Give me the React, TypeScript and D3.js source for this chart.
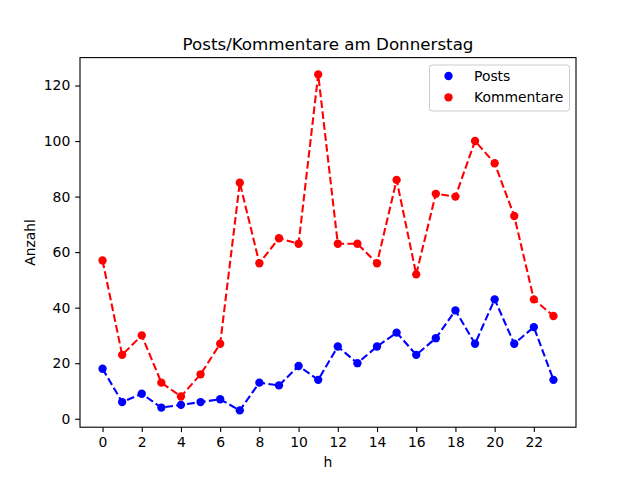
import React, { useEffect, useRef } from 'react';
import * as d3 from 'd3';

const hours = d3.range(0, 24);
const posts = [18, 6, 9, 4, 5, 6, 7, 3, 13, 12, 19, 14, 26, 20, 26, 31, 23, 29, 39, 27, 43, 27, 33, 14];
const kommentare = [57, 23, 30, 13, 8, 16, 27, 85, 56, 65, 63, 124, 63, 63, 56, 86, 52, 81, 80, 100, 92, 73, 43, 37];
const xTicks = [0, 2, 4, 6, 8, 10, 12, 14, 16, 18, 20, 22];
const yTicks = [0, 20, 40, 60, 80, 100, 120];

const series = [
  { name: 'Posts', values: posts, color: '#0000ff' },
  { name: 'Kommentare', values: kommentare, color: '#ff0000' },
];

const W = 640;
const H = 480;
const margin = { top: 57.6, right: 64, bottom: 52.8, left: 80 };
const font = 'DejaVu Sans, sans-serif';

export default function App() {
  const svgRef = useRef<SVGSVGElement>(null);

  useEffect(() => {
    if (!svgRef.current) return;
    const svg = d3.select(svgRef.current);
    svg.selectAll('*').remove();

    const iw = W - margin.left - margin.right;
    const ih = H - margin.top - margin.bottom;

    // matplotlib style 5% margins
    const xPad = 23 * 0.05;
    const x = d3.scaleLinear().domain([0 - xPad, 23 + xPad]).range([0, iw]);
    const allVals = posts.concat(kommentare);
    const ymin = d3.min(allVals) as number;
    const ymax = d3.max(allVals) as number;
    const yPad = (ymax - ymin) * 0.05;
    const y = d3.scaleLinear().domain([ymin - yPad, ymax + yPad]).range([ih, 0]);

    svg.append('rect').attr('width', W).attr('height', H).attr('fill', '#fff');

    const g = svg.append('g').attr('transform', `translate(${margin.left},${margin.top})`);

    const line = d3.line<number>()
      .x((_, i) => x(hours[i]))
      .y(d => y(d));

    series.forEach(s => {
      g.append('path')
        .datum(s.values)
        .attr('fill', 'none')
        .attr('stroke', s.color)
        .attr('stroke-width', 2.08)
        .attr('stroke-dasharray', '7.7,3.3')
        .attr('d', line);
      g.selectAll(null)
        .data(s.values)
        .enter()
        .append('circle')
        .attr('cx', (_, i) => x(hours[i]))
        .attr('cy', d => y(d))
        .attr('r', 4.17)
        .attr('fill', s.color);
    });

    // axes
    const xAxis = g.append('g')
      .attr('transform', `translate(0,${ih})`)
      .call(d3.axisBottom(x).tickValues(xTicks).tickSize(4.86).tickPadding(4.9).tickFormat(d3.format('d')));
    const yAxis = g.append('g')
      .call(d3.axisLeft(y).tickValues(yTicks).tickSize(4.86).tickPadding(4.9).tickFormat(d3.format('d')));
    [xAxis, yAxis].forEach(a => {
      a.select('.domain').remove();
      a.selectAll('line').attr('stroke', '#000').attr('stroke-width', 1.1);
      a.selectAll('text').attr('fill', '#000').style('font-family', font).style('font-size', '13.9px');
    });

    g.append('rect')
      .attr('width', iw)
      .attr('height', ih)
      .attr('fill', 'none')
      .attr('stroke', '#000')
      .attr('stroke-width', 1.1);

    // labels
    svg.append('text')
      .attr('x', margin.left + iw / 2)
      .attr('y', margin.top - 8)
      .attr('text-anchor', 'middle')
      .style('font-family', font)
      .style('font-size', '16.7px')
      .text('Posts/Kommentare am Donnerstag');
    svg.append('text')
      .attr('x', margin.left + iw / 2)
      .attr('y', 467)
      .attr('text-anchor', 'middle')
      .style('font-family', font)
      .style('font-size', '13.9px')
      .text('h');
    svg.append('text')
      .attr('transform', `translate(35,${margin.top + ih / 2}) rotate(-90)`)
      .attr('text-anchor', 'middle')
      .style('font-family', font)
      .style('font-size', '13.9px')
      .text('Anzahl');

    // legend
    const lg = svg.append('g').attr('transform', 'translate(429.5,65)');
    lg.append('rect')
      .attr('width', 140)
      .attr('height', 46)
      .attr('rx', 2.8)
      .attr('fill', '#fff')
      .attr('fill-opacity', 0.8)
      .attr('stroke', '#cccccc')
      .attr('stroke-width', 1);
    series.forEach((s, i) => {
      const cy = 11 + i * 21.3;
      lg.append('circle').attr('cx', 19).attr('cy', cy).attr('r', 4.17).attr('fill', s.color);
      lg.append('text')
        .attr('x', 44.5)
        .attr('y', cy)
        .attr('dy', '0.35em')
        .style('font-family', font)
        .style('font-size', '13.9px')
        .text(s.name);
    });
  }, []);

  return (
    <svg
      ref={svgRef}
      width={W}
      height={H}
      style={{ position: 'absolute', left: 0, top: 0 }}
    />
  );
}
